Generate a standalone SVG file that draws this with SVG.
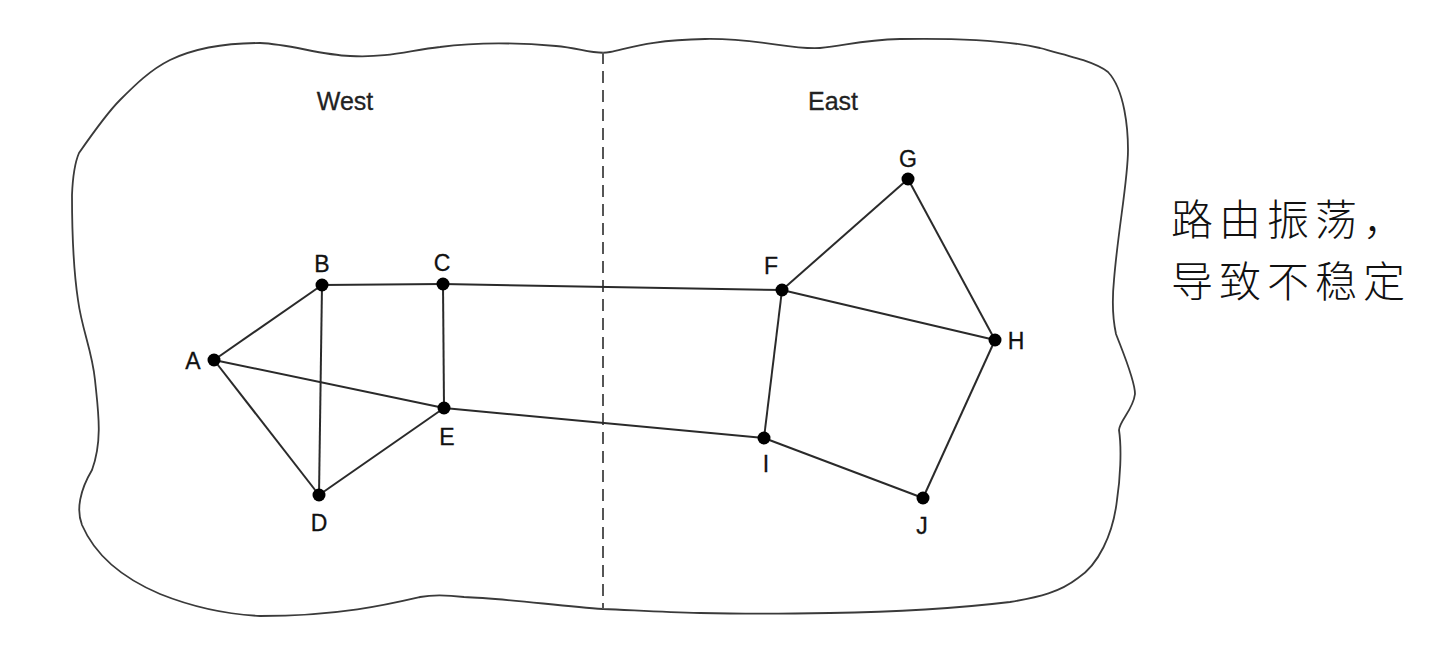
<svg xmlns="http://www.w3.org/2000/svg" width="1454" height="648" viewBox="0 0 1454 648">
<style>
.lbl{font-family:"Liberation Sans",Arial,sans-serif;font-size:23px;fill:#111;stroke:#111;stroke-width:0.3;}
.reg{font-family:"Liberation Sans",Arial,sans-serif;font-size:25px;fill:#222;stroke:#222;stroke-width:0.3;}
.cjk{font-family:"Noto Sans CJK SC",sans-serif;font-size:42px;font-weight:300;letter-spacing:6px;fill:#111;}
.edge{stroke:#2a2a2a;stroke-width:2;fill:none;}
.dot{fill:#000;}
</style>
<rect width="1454" height="648" fill="#fff"/>
<g id="boundary">
<path d="M79,153 C95,130 110,110 120,100 C135,85 150,70 170,60 C195,48 225,43 260,43 C290,44 320,55 350,56 C390,58 410,50 440,47 C470,43 510,42 556,46 C580,48 595,55 610,52 C630,48 650,40 705,39 C760,38 790,50 820,48 C845,46 860,40 900,39 C960,38 1010,41 1040,48 C1070,56 1095,62 1108,72 C1125,90 1128,130 1128,150 C1128,180 1118,230 1114,280 C1112,300 1113,320 1116,334 C1122,350 1135,380 1135,394 C1133,410 1120,420 1119,430 C1122,450 1120,480 1117,500 C1113,535 1098,565 1078,578 C1060,592 1040,597 1010,602 C960,608 900,612 830,613 C780,614 740,614 700,613 C660,612 630,610 603,609 C560,606 500,598 464,597 C440,594 430,595 420,597 C390,604 340,616 260,616 C220,614 190,606 160,594 C120,577 95,555 82,525 C76,510 80,490 92,470 C103,440 98,410 95,380 C92,350 82,330 78,300 C72,260 72,210 72,195 C73,170 76,160 79,153 Z" fill="none" stroke="#3a3a3a" stroke-width="1.8"/>
<line x1="603" y1="52" x2="603" y2="609" stroke="#555" stroke-width="2" stroke-dasharray="12,7"/>
</g>
<g id="regions">
<text class="reg" x="345" y="110" text-anchor="middle">West</text>
<text class="reg" x="833" y="110" text-anchor="middle">East</text>
</g>
<g id="connectors">
<line class="edge" x1="214" y1="360" x2="322" y2="285"/>
<line class="edge" x1="214" y1="360" x2="319" y2="495"/>
<line class="edge" x1="214" y1="360" x2="444" y2="408"/>
<line class="edge" x1="322" y1="285" x2="443" y2="284"/>
<line class="edge" x1="322" y1="285" x2="319" y2="495"/>
<line class="edge" x1="443" y1="284" x2="444" y2="408"/>
<line class="edge" x1="443" y1="284" x2="782" y2="290"/>
<line class="edge" x1="319" y1="495" x2="444" y2="408"/>
<line class="edge" x1="444" y1="408" x2="764" y2="438"/>
<line class="edge" x1="782" y1="290" x2="908" y2="179"/>
<line class="edge" x1="782" y1="290" x2="995" y2="340"/>
<line class="edge" x1="782" y1="290" x2="764" y2="438"/>
<line class="edge" x1="908" y1="179" x2="995" y2="340"/>
<line class="edge" x1="995" y1="340" x2="923" y2="498"/>
<line class="edge" x1="764" y1="438" x2="923" y2="498"/>
</g>
<g id="node-A"><circle class="dot" cx="214" cy="360" r="6.5"/><text class="lbl" x="193" y="369" text-anchor="middle">A</text></g>
<g id="node-B"><circle class="dot" cx="322" cy="285" r="6.5"/><text class="lbl" x="322" y="272" text-anchor="middle">B</text></g>
<g id="node-C"><circle class="dot" cx="443" cy="284" r="6.5"/><text class="lbl" x="442" y="271" text-anchor="middle">C</text></g>
<g id="node-D"><circle class="dot" cx="319" cy="495" r="6.5"/><text class="lbl" x="319" y="531" text-anchor="middle">D</text></g>
<g id="node-E"><circle class="dot" cx="444" cy="408" r="6.5"/><text class="lbl" x="447" y="445" text-anchor="middle">E</text></g>
<g id="node-F"><circle class="dot" cx="782" cy="290" r="6.5"/><text class="lbl" x="771" y="274" text-anchor="middle">F</text></g>
<g id="node-G"><circle class="dot" cx="908" cy="179" r="6.5"/><text class="lbl" x="908" y="167" text-anchor="middle">G</text></g>
<g id="node-H"><circle class="dot" cx="995" cy="340" r="6.5"/><text class="lbl" x="1016" y="349" text-anchor="middle">H</text></g>
<g id="node-I"><circle class="dot" cx="764" cy="438" r="6.5"/><text class="lbl" x="766" y="472" text-anchor="middle">I</text></g>
<g id="node-J"><circle class="dot" cx="923" cy="498" r="6.5"/><text class="lbl" x="922" y="534" text-anchor="middle">J</text></g>
<g id="note">
<text class="cjk" x="1171" y="235">路由振荡，</text>
<text class="cjk" x="1171" y="297">导致不稳定</text>
</g>
</svg>
